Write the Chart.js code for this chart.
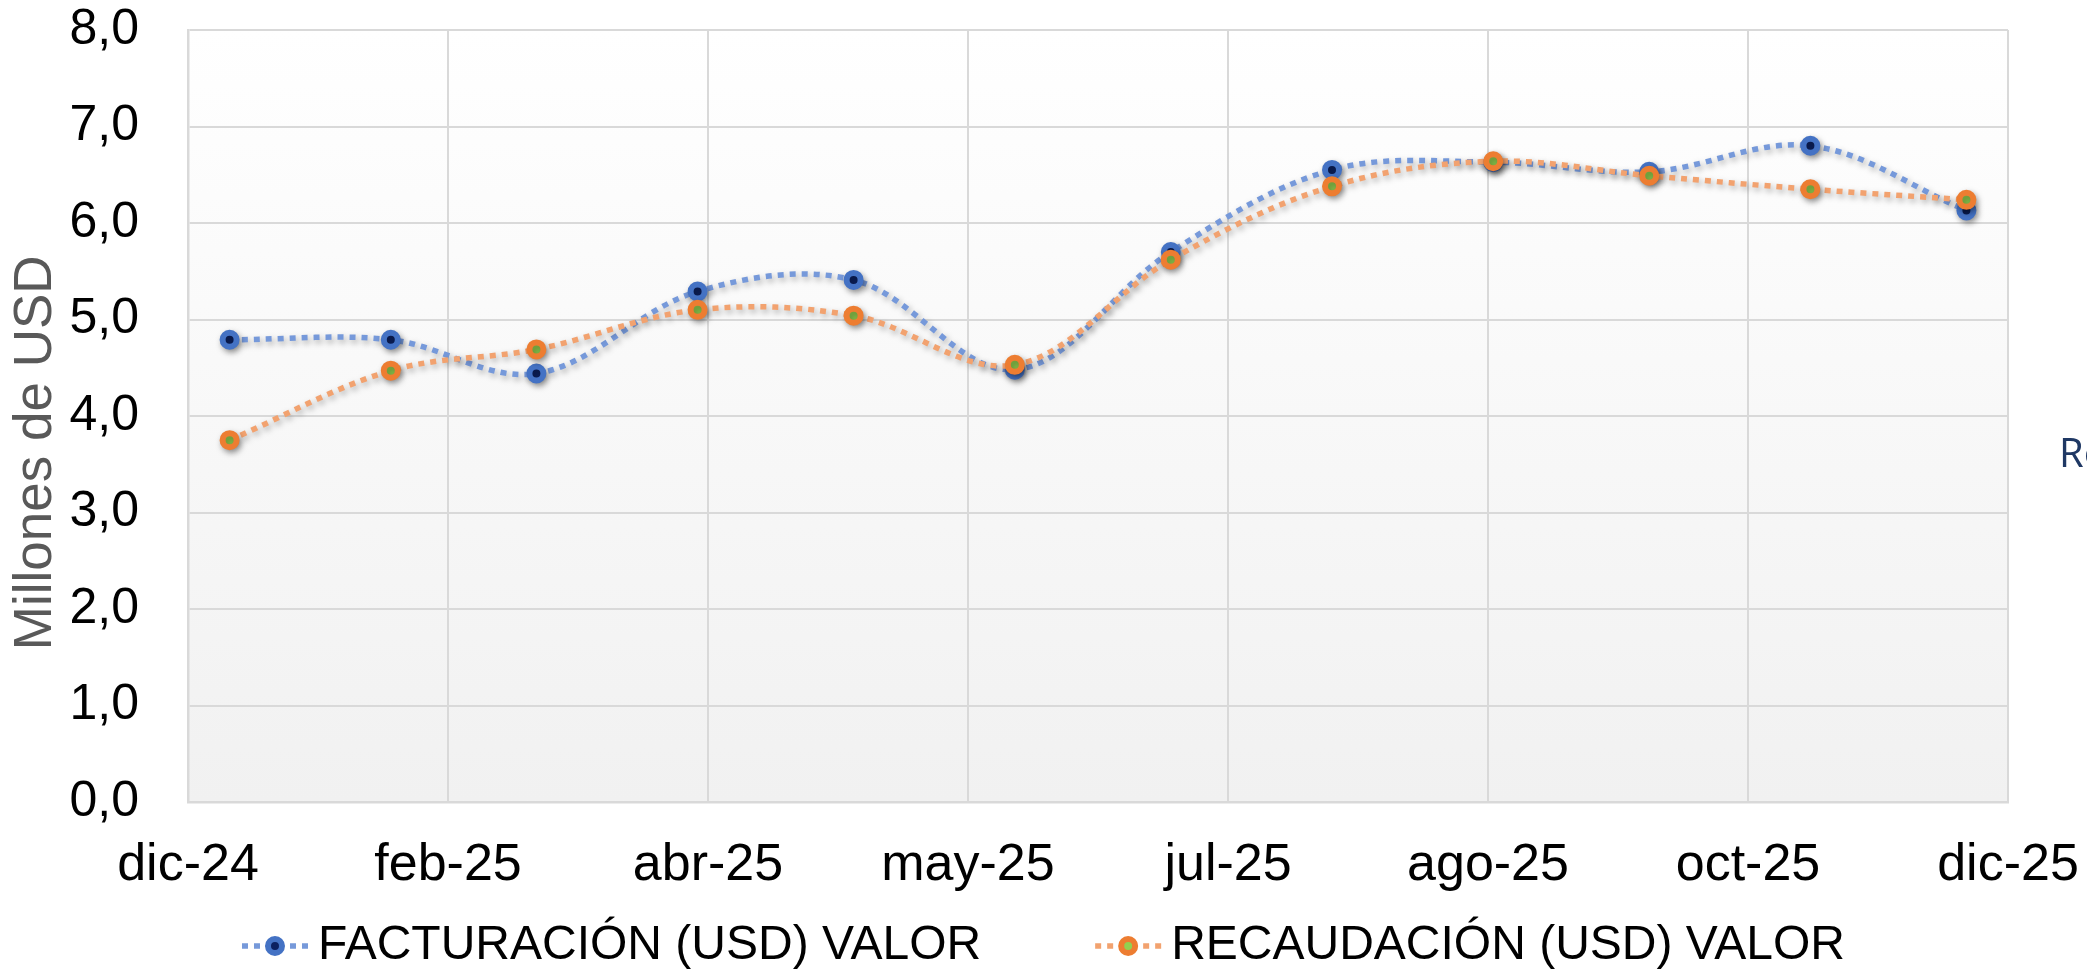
<!DOCTYPE html>
<html>
<head>
<meta charset="utf-8">
<script src="https://cdn.jsdelivr.net/npm/chart.js@4/dist/chart.umd.min.js"></script>
<style>
  html, body { margin: 0; padding: 0; background: #ffffff; }
  #wrap { width: 2087px; height: 973px; }
</style>
</head>
<body>
<div id="wrap"><canvas id="chart" width="2087" height="973"></canvas></div>
<script>
// data
var axisStart = '2024-12-24';
var monthDates = ['2025-01-01', '2025-02-01', '2025-03-01', '2025-04-01', '2025-05-01', '2025-06-01',
                  '2025-07-01', '2025-08-01', '2025-09-01', '2025-10-01', '2025-11-01', '2025-12-01'];
var facturacion = [4.79, 4.79, 4.44, 5.29, 5.41, 4.48, 5.70, 6.55, 6.63, 6.53, 6.80, 6.13];
var recaudacion = [3.75, 4.47, 4.69, 5.10, 5.04, 4.53, 5.62, 6.38, 6.64, 6.49, 6.35, 6.24];
var xTickLabels = ['dic-24', 'feb-25', 'abr-25', 'may-25', 'jul-25', 'ago-25', 'oct-25', 'dic-25'];
var seriesLabels = ['FACTURACIÓN (USD) VALOR', 'RECAUDACIÓN (USD) VALOR'];

var FONT = '"Liberation Sans", Arial, sans-serif';
Chart.defaults.font.family = FONT;
Chart.defaults.color = '#000000';

// days since the axis start
function dayOffset(d) {
    return (Date.parse(d) - Date.parse(axisStart)) / 86400000;
}

function toPoints(values) {
    return values.map(function (v, i) {
        return { x: dayOffset(monthDates[i]), y: v };
    });
}

// plot area gradient fill
var plotBackground = {
    id: 'plotBackground',
    beforeDraw: function (chart) {
        var ctx = chart.ctx;
        var a = chart.chartArea;
        ctx.save();
        var g = ctx.createLinearGradient(0, a.top, 0, a.bottom);
        g.addColorStop(0, '#ffffff');
        g.addColorStop(1, '#f1f1f1');
        ctx.fillStyle = g;
        ctx.fillRect(a.left, a.top, a.right - a.left, a.bottom - a.top);
        ctx.restore();
    }
};

// soft drop shadow under lines and markers
var lineShadow = {
    id: 'lineShadow',
    beforeDatasetsDraw: function (chart) {
        var ctx = chart.ctx;
        ctx.save();
        ctx.shadowColor = 'rgba(0, 0, 0, 0.35)';
        ctx.shadowBlur = 6;
        ctx.shadowOffsetX = 2;
        ctx.shadowOffsetY = 3;
    },
    afterDatasetsDraw: function (chart) {
        chart.ctx.restore();
    }
};

// legend with a dotted line sample and marker, like the office chart
var lineLegend = {
    id: 'lineLegend',
    afterDraw: function (chart) {
        var ctx = chart.ctx;
        var sets = chart.data.datasets;
        var sample = 66, gap = 10, between = 114;
        var cy = chart.height - 27;
        ctx.save();
        ctx.font = '48px ' + FONT;
        var widths = sets.map(function (ds) {
            return sample + gap + ctx.measureText(ds.label).width;
        });
        var total = widths.reduce(function (a, b) { return a + b; }, 0) + between * (sets.length - 1);
        var x = (chart.width - total) / 2;
        sets.forEach(function (ds, i) {
            ctx.setLineDash(ds.borderDash);
            ctx.lineWidth = ds.borderWidth;
            ctx.strokeStyle = ds.borderColor;
            ctx.beginPath();
            ctx.moveTo(x, cy);
            ctx.lineTo(x + sample, cy);
            ctx.stroke();
            ctx.setLineDash([]);
            ctx.beginPath();
            ctx.arc(x + sample / 2, cy, ds.pointRadius, 0, Math.PI * 2);
            ctx.fillStyle = ds.pointBackgroundColor;
            ctx.fill();
            ctx.lineWidth = ds.pointBorderWidth;
            ctx.strokeStyle = ds.pointBorderColor;
            ctx.stroke();
            ctx.fillStyle = '#000000';
            ctx.textBaseline = 'middle';
            ctx.fillText(ds.label, x + sample + gap, cy);
            x += widths[i] + between;
        });
        // clipped text box at the right edge of the slide
        ctx.font = '40px "Open Sans", sans-serif';
        ctx.fillStyle = '#1f3864';
        ctx.textBaseline = 'alphabetic';
        ctx.fillText('Re', 2059, 467);
        ctx.restore();
    }
};

var ctx = document.getElementById('chart').getContext('2d');
var chart = new Chart(ctx, {
    type: 'line',
    data: {
        datasets: [{
            label: seriesLabels[0],
            data: toPoints(facturacion),
            borderColor: '#7699da',
            borderWidth: 5.5,
            borderDash: [6, 6],
            borderCapStyle: 'butt',
            tension: 0.35,
            pointRadius: 7,
            pointBorderWidth: 6,
            pointBackgroundColor: '#0c2160',
            pointBorderColor: '#4472c4',
            order: 1
        }, {
            label: seriesLabels[1],
            data: toPoints(recaudacion),
            borderColor: '#f2a26f',
            borderWidth: 5.5,
            borderDash: [6, 6],
            borderCapStyle: 'butt',
            tension: 0.35,
            pointRadius: 7,
            pointBorderWidth: 6,
            pointBackgroundColor: '#92d050',
            pointBorderColor: '#ed7d31',
            order: 0
        }]
    },
    options: {
        responsive: false,
        animation: false,
        layout: {
            padding: { left: 4.5, top: 30, right: 79, bottom: 77 }
        },
        plugins: {
            legend: { display: false },
            tooltip: { enabled: false }
        },
        scales: {
            x: {
                type: 'linear',
                min: 0,
                max: 350,
                grid: { color: '#d9d9d9', lineWidth: 2, drawTicks: false },
                border: { color: '#d9d9d9', width: 2.5 },
                ticks: {
                    stepSize: 50,
                    padding: 32,
                    font: { size: 52 },
                    color: '#000000',
                    maxRotation: 0,
                    autoSkip: false,
                    callback: function (value, index) {
                        return xTickLabels[index];
                    }
                },
                afterFit: function (scale) {
                    scale.height = 94;
                    scale.paddingLeft = 0;
                    scale.paddingRight = 0;
                }
            },
            y: {
                min: 0,
                max: 8,
                grid: { color: '#d9d9d9', lineWidth: 2, drawTicks: false },
                border: { color: '#d9d9d9', width: 2.5 },
                ticks: {
                    stepSize: 1,
                    padding: 49,
                    font: { size: 50 },
                    color: '#000000',
                    callback: function (value) {
                        return value.toFixed(1).replace('.', ',');
                    }
                },
                title: {
                    display: true,
                    text: 'Millones de USD     ',
                    color: '#595959',
                    font: { size: 53 },
                    padding: 0
                },
                afterFit: function (scale) {
                    scale.width = 183.5;
                    scale.paddingTop = 0;
                    scale.paddingBottom = 0;
                }
            }
        }
    },
    plugins: [plotBackground, lineShadow, lineLegend]
});
</script>
</body>
</html>
